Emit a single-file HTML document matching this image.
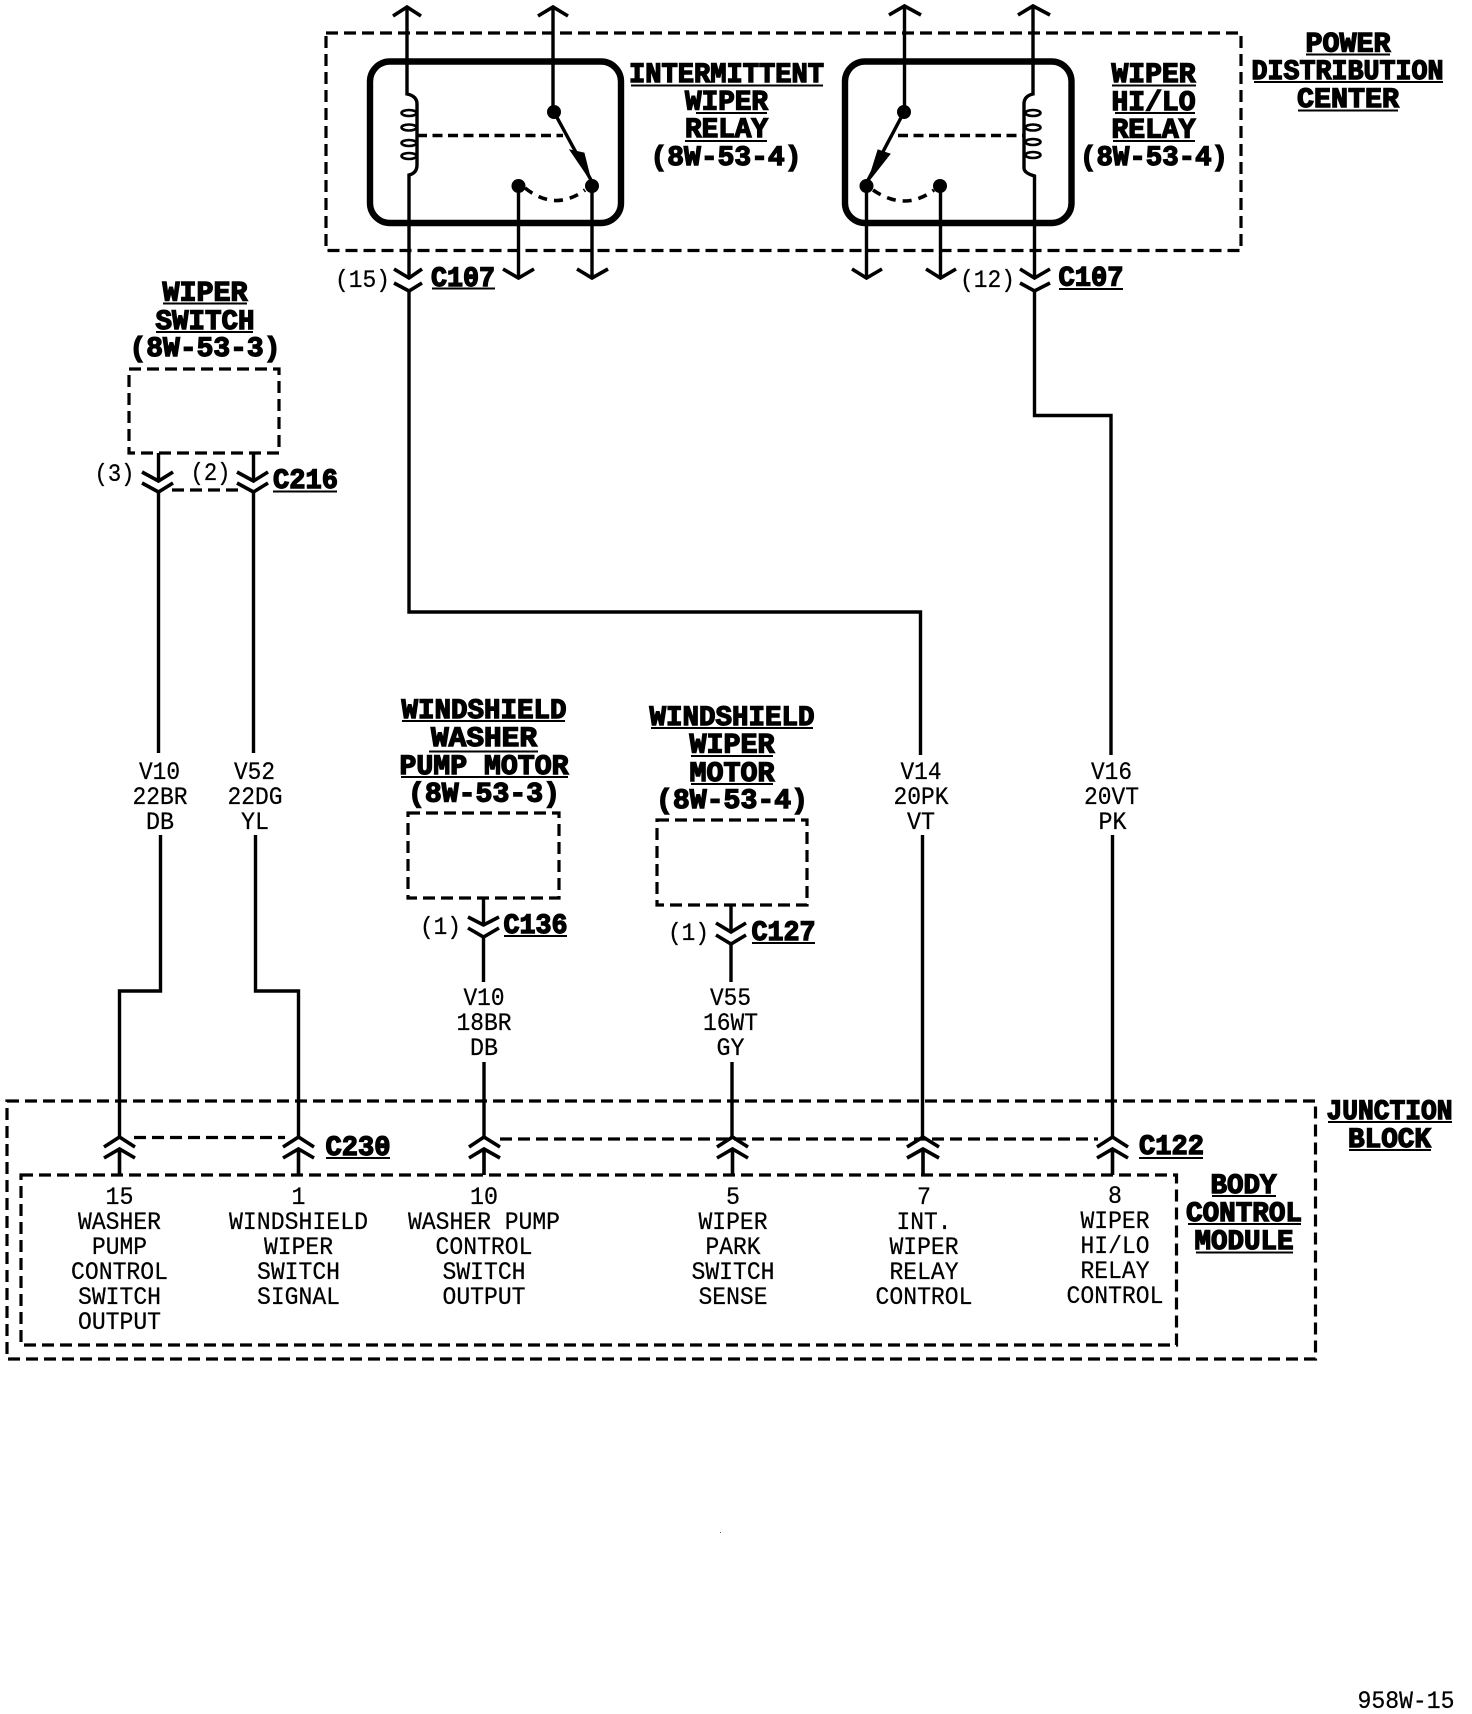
<!DOCTYPE html>
<html>
<head>
<meta charset="utf-8">
<style>
html,body{margin:0;padding:0;background:#fff;width:1472px;height:1714px;overflow:hidden}
svg{display:block}
.t{font-family:"Liberation Mono",monospace;font-size:25px;fill:#000;text-anchor:middle;stroke:#000;stroke-width:.25}
.b{font-family:"Liberation Mono",monospace;font-weight:bold;font-size:28px;fill:#000;text-anchor:middle;stroke:#000;stroke-width:1.4}
.w{fill:none;stroke:#000;stroke-width:3.4}
.a{fill:none;stroke:#000;stroke-width:3.6}
.d{fill:none;stroke:#000;stroke-width:3.2;stroke-dasharray:12 6}
.u{fill:none;stroke:#000;stroke-width:2}
.r{fill:none;stroke:#000;stroke-width:6.400}
</style>
</head>
<body>
<svg width="1472" height="1714" viewBox="0 0 1472 1714" xmlns="http://www.w3.org/2000/svg">
<rect width="1472" height="1714" fill="#fff"/>

<!-- dashed boxes -->
<rect class="d" x="326" y="33" width="915" height="217.500"/>
<rect class="d" x="129" y="369" width="150" height="84"/>
<rect class="d" x="408" y="813" width="151" height="85"/>
<rect class="d" x="657" y="820" width="150" height="85"/>
<rect class="d" x="7" y="1101" width="1308.500" height="258"/>
<rect class="d" x="21" y="1175" width="1155.500" height="170"/>
<path class="d" d="M172 490H238M134 1137.500H285M500 1139H1098"/>

<!-- relays -->
<rect class="r" x="370" y="61.500" width="251" height="161.500" rx="20"/>
<rect class="r" x="845" y="61.500" width="226.500" height="161.500" rx="20"/>

<!-- left relay -->
<path class="w" d="M407 7V94Q417 96 417 104V165Q417 173 409 175V278"/>
<path class="a" d="M393 16L407 7L421 16M538 16L553 7L568 16"/>
<path class="w" d="M553 7V112"/>
<g fill="none" stroke="#000" stroke-width="2.600">
<ellipse cx="409" cy="113" rx="7.500" ry="3"/><ellipse cx="409" cy="127.500" rx="7.500" ry="3"/>
<ellipse cx="409" cy="143" rx="7.500" ry="3"/><ellipse cx="409" cy="156" rx="7.500" ry="3"/>
<ellipse cx="1033" cy="113" rx="7.500" ry="3"/><ellipse cx="1033" cy="127.500" rx="7.500" ry="3"/>
<ellipse cx="1033" cy="142" rx="7.500" ry="3"/><ellipse cx="1033" cy="155" rx="7.500" ry="3"/>
</g>
<path class="a" d="M417 135.500H563" stroke-dasharray="10 5.500"/>
<circle cx="554" cy="112" r="7"/>
<circle cx="592" cy="186" r="7"/>
<circle cx="518.500" cy="186" r="7"/>
<path class="w" d="M554 112L591 180"/>
<path d="M570 150L584 153L591 181Z" fill="#000" stroke="#000"/>
<path class="a" d="M525 188Q555 212 585 190" stroke-dasharray="9 7"/>
<path class="w" d="M518.500 186V278M592 186V278"/>
<path class="a" d="M503 269L518.500 278L534 269M577 269L592 278L608 269"/>
<path class="w" d="M409 290V612H920.500V755"/>
<path class="a" d="M394 269L409 278L422 269M394 283L409 291L422 283"/>

<!-- right relay -->
<path class="w" d="M1033 6V94Q1024 96 1024 104V168Q1024 173 1034.500 176V278"/>
<path class="a" d="M889 15L904.500 6L921 15M1018 15L1033 6L1050 15"/>
<path class="w" d="M904.500 6V112"/>
<path class="a" d="M898 135.500H1024" stroke-dasharray="10 5.500"/>
<circle cx="904" cy="112" r="7"/>
<circle cx="866.500" cy="186" r="7"/>
<circle cx="940" cy="186" r="7"/>
<path class="w" d="M904 112L868 180"/>
<path d="M878 150L890 154L868 182Z" fill="#000" stroke="#000"/>
<path class="a" d="M873 190Q905 212 934 190" stroke-dasharray="9 7"/>
<path class="w" d="M866.500 186V278M940.500 186V278"/>
<path class="a" d="M852 269L866.500 278L882 269M926 269L940.500 278L956 269"/>
<path class="w" d="M1034.500 290V415.500H1111V755"/>
<path class="a" d="M1020 269L1034.500 278L1050 269M1020 283L1034.500 291L1050 283"/>

<!-- wiper switch connector -->
<path class="w" d="M158.500 453V480M253.500 453V480"/>
<path class="a" d="M142 472L158.500 481L173 472M142 483L158.500 492L173 483M237 472L253.500 481L268 472M237 483L253.500 492L268 483"/>
<path class="w" d="M158.500 491V753M253.500 491V753"/>
<path class="w" d="M160.500 835V991H119.500V1137M255.500 835V991H298.500V1137"/>

<!-- washer pump -->
<path class="w" d="M483.500 898V925M483.500 936V982M484 1062V1137"/>
<path class="a" d="M468 917L483.500 925L499 917M468 928L483.500 937L499 928"/>
<!-- wiper motor -->
<path class="w" d="M731 905V932M731 943V982M732 1062V1137"/>
<path class="a" d="M716 923L731 932L746 923M716 935L731 944L746 935"/>
<!-- V14 V16 lower -->
<path class="w" d="M922.500 835V1137M1112.500 835V1137"/>

<!-- bottom connectors -->
<path class="a" d="M104 1147L119.500 1137L135 1147M104 1158L119.500 1149L135 1158M119.500 1149V1175"/>
<path class="a" d="M283 1147L298.500 1137L314 1147M283 1158L298.500 1149L314 1158M298.500 1149V1175"/>
<path class="a" d="M469 1147L484 1137L500 1147M469 1158L484 1149L500 1158M484 1149V1175"/>
<path class="a" d="M717 1147L732.500 1137L748 1147M717 1158L732.500 1149L748 1158M732.500 1149V1175"/>
<path class="a" d="M907 1147L923 1137L939 1147M907 1158L923 1149L939 1158M923 1149V1175"/>
<path class="a" d="M1097 1147L1112.500 1137L1128 1147M1097 1158L1112.500 1149L1128 1158M1112.500 1149V1175"/>

<!-- bold titles -->
<text class="b" x="726.500" y="82" textLength="195" lengthAdjust="spacingAndGlyphs">INTERMITTENT</text>
<text class="b" x="726.500" y="109.500" textLength="83" lengthAdjust="spacingAndGlyphs">WIPER</text>
<text class="b" x="726.500" y="137" textLength="83" lengthAdjust="spacingAndGlyphs">RELAY</text>
<text class="b" x="726" y="165" textLength="151" lengthAdjust="spacingAndGlyphs">(8W-53-4)</text>
<path class="u" d="M631 85.500H823M696 113H767M685 141H767"/>

<text class="b" x="1153.500" y="82" textLength="84" lengthAdjust="spacingAndGlyphs">WIPER</text>
<text class="b" x="1153.500" y="110" textLength="84" lengthAdjust="spacingAndGlyphs">HI/LO</text>
<text class="b" x="1153.500" y="137.500" textLength="84" lengthAdjust="spacingAndGlyphs">RELAY</text>
<text class="b" x="1154" y="165" textLength="148" lengthAdjust="spacingAndGlyphs">(8W-53-4)</text>
<path class="u" d="M1112 85.500H1196M1115 113H1195M1113 141H1195"/>

<text class="b" x="1348" y="51.500" textLength="85" lengthAdjust="spacingAndGlyphs">POWER</text>
<text class="b" x="1347.500" y="79" textLength="192" lengthAdjust="spacingAndGlyphs">DISTRIBUTION</text>
<text class="b" x="1348" y="107" textLength="102" lengthAdjust="spacingAndGlyphs">CENTER</text>
<path class="u" d="M1306 54.500H1390M1254 82H1443M1298 110.500H1398"/>

<text class="b" x="205" y="300.500" textLength="85" lengthAdjust="spacingAndGlyphs">WIPER</text>
<text class="b" x="205" y="329" textLength="99" lengthAdjust="spacingAndGlyphs">SWITCH</text>
<text class="b" x="205" y="356" textLength="151" lengthAdjust="spacingAndGlyphs">(8W-53-3)</text>
<path class="u" d="M163 303.500H247M156 332H253"/>

<text class="b" x="484" y="718" textLength="165" lengthAdjust="spacingAndGlyphs">WINDSHIELD</text>
<text class="b" x="484" y="746" textLength="106" lengthAdjust="spacingAndGlyphs">WASHER</text>
<text class="b" x="484" y="774" textLength="169" lengthAdjust="spacingAndGlyphs">PUMP MOTOR</text>
<text class="b" x="484" y="801.500" textLength="152" lengthAdjust="spacingAndGlyphs">(8W-53-3)</text>
<path class="u" d="M402 721H565M429 751.500H538M401 777H568"/>

<text class="b" x="732" y="725" textLength="165" lengthAdjust="spacingAndGlyphs">WINDSHIELD</text>
<text class="b" x="732" y="752.500" textLength="85" lengthAdjust="spacingAndGlyphs">WIPER</text>
<text class="b" x="732" y="781" textLength="85" lengthAdjust="spacingAndGlyphs">MOTOR</text>
<text class="b" x="732" y="808" textLength="152" lengthAdjust="spacingAndGlyphs">(8W-53-4)</text>
<path class="u" d="M651 728H813M691 756H773M691 784H773"/>

<text class="b" x="1243.500" y="1193" textLength="66" lengthAdjust="spacingAndGlyphs">BODY</text>
<text class="b" x="1244" y="1221" textLength="116" lengthAdjust="spacingAndGlyphs">CONTROL</text>
<text class="b" x="1244" y="1249" textLength="99" lengthAdjust="spacingAndGlyphs">MODULE</text>
<path class="u" d="M1212 1196H1276M1188 1224H1301M1196 1252.500H1293"/>

<text class="b" x="1389.500" y="1119" textLength="126" lengthAdjust="spacingAndGlyphs">JUNCTION</text>
<text class="b" x="1389.500" y="1147" textLength="83" lengthAdjust="spacingAndGlyphs">BLOCK</text>
<path class="u" d="M1328 1122H1452M1349 1150H1431"/>

<!-- connector names -->
<text class="b" x="463" y="286" textLength="64" lengthAdjust="spacingAndGlyphs">C107</text>
<text class="b" x="1091" y="285.500" textLength="65" lengthAdjust="spacingAndGlyphs">C107</text>
<text class="b" x="305.500" y="488" textLength="65" lengthAdjust="spacingAndGlyphs">C216</text>
<text class="b" x="535.500" y="933" textLength="64" lengthAdjust="spacingAndGlyphs">C136</text>
<text class="b" x="783.500" y="940" textLength="64" lengthAdjust="spacingAndGlyphs">C127</text>
<text class="b" x="358" y="1155" textLength="65" lengthAdjust="spacingAndGlyphs">C230</text>
<text class="b" x="1171.500" y="1154" textLength="65" lengthAdjust="spacingAndGlyphs">C122</text>
<path class="u" d="M432 288.500H495M1059 289H1123M273 491.500H337M504 936H567M752 943H815M326 1158H390M1139 1158H1203"/>

<!-- pin numbers -->
<text class="t" x="362.500" y="287" textLength="55" lengthAdjust="spacingAndGlyphs">(15)</text>
<text class="t" x="987.500" y="287" textLength="55" lengthAdjust="spacingAndGlyphs">(12)</text>
<text class="t" x="114.500" y="481" textLength="40" lengthAdjust="spacingAndGlyphs">(3)</text>
<text class="t" x="210.500" y="480" textLength="40" lengthAdjust="spacingAndGlyphs">(2)</text>
<text class="t" x="440.500" y="934" textLength="41" lengthAdjust="spacingAndGlyphs">(1)</text>
<text class="t" x="688.500" y="940" textLength="41" lengthAdjust="spacingAndGlyphs">(1)</text>

<!-- wire labels -->
<text class="t" x="159.500" y="779" textLength="41" lengthAdjust="spacingAndGlyphs">V10</text>
<text class="t" x="160" y="804" textLength="55" lengthAdjust="spacingAndGlyphs">22BR</text>
<text class="t" x="160" y="829" textLength="28" lengthAdjust="spacingAndGlyphs">DB</text>
<text class="t" x="254.500" y="779" textLength="41" lengthAdjust="spacingAndGlyphs">V52</text>
<text class="t" x="255" y="804" textLength="55" lengthAdjust="spacingAndGlyphs">22DG</text>
<text class="t" x="255" y="829" textLength="28" lengthAdjust="spacingAndGlyphs">YL</text>
<text class="t" x="484" y="1005" textLength="41" lengthAdjust="spacingAndGlyphs">V10</text>
<text class="t" x="484" y="1030" textLength="55" lengthAdjust="spacingAndGlyphs">18BR</text>
<text class="t" x="484" y="1055" textLength="28" lengthAdjust="spacingAndGlyphs">DB</text>
<text class="t" x="730.500" y="1005" textLength="41" lengthAdjust="spacingAndGlyphs">V55</text>
<text class="t" x="730.500" y="1030" textLength="55" lengthAdjust="spacingAndGlyphs">16WT</text>
<text class="t" x="730.500" y="1055" textLength="28" lengthAdjust="spacingAndGlyphs">GY</text>
<text class="t" x="921" y="779" textLength="41" lengthAdjust="spacingAndGlyphs">V14</text>
<text class="t" x="921" y="804" textLength="55" lengthAdjust="spacingAndGlyphs">20PK</text>
<text class="t" x="921" y="829" textLength="28" lengthAdjust="spacingAndGlyphs">VT</text>
<text class="t" x="1111.500" y="779" textLength="41" lengthAdjust="spacingAndGlyphs">V16</text>
<text class="t" x="1111.500" y="804" textLength="55" lengthAdjust="spacingAndGlyphs">20VT</text>
<text class="t" x="1112.500" y="829" textLength="28" lengthAdjust="spacingAndGlyphs">PK</text>

<!-- BCM pin labels -->
<text class="t" x="119.500" y="1204" textLength="28" lengthAdjust="spacingAndGlyphs">15</text>
<text class="t" x="119.500" y="1229" textLength="83" lengthAdjust="spacingAndGlyphs">WASHER</text>
<text class="t" x="119.500" y="1254" textLength="55" lengthAdjust="spacingAndGlyphs">PUMP</text>
<text class="t" x="119.500" y="1279" textLength="97" lengthAdjust="spacingAndGlyphs">CONTROL</text>
<text class="t" x="119.500" y="1304" textLength="83" lengthAdjust="spacingAndGlyphs">SWITCH</text>
<text class="t" x="119.500" y="1329" textLength="83" lengthAdjust="spacingAndGlyphs">OUTPUT</text>

<text class="t" x="298.500" y="1204" textLength="14" lengthAdjust="spacingAndGlyphs">1</text>
<text class="t" x="298.500" y="1229" textLength="139" lengthAdjust="spacingAndGlyphs">WINDSHIELD</text>
<text class="t" x="298.500" y="1254" textLength="69" lengthAdjust="spacingAndGlyphs">WIPER</text>
<text class="t" x="298.500" y="1279" textLength="83" lengthAdjust="spacingAndGlyphs">SWITCH</text>
<text class="t" x="298.500" y="1304" textLength="83" lengthAdjust="spacingAndGlyphs">SIGNAL</text>

<text class="t" x="484" y="1204" textLength="28" lengthAdjust="spacingAndGlyphs">10</text>
<text class="t" x="484" y="1229" textLength="152" lengthAdjust="spacingAndGlyphs">WASHER PUMP</text>
<text class="t" x="484" y="1254" textLength="97" lengthAdjust="spacingAndGlyphs">CONTROL</text>
<text class="t" x="484" y="1279" textLength="83" lengthAdjust="spacingAndGlyphs">SWITCH</text>
<text class="t" x="484" y="1304" textLength="83" lengthAdjust="spacingAndGlyphs">OUTPUT</text>

<text class="t" x="733" y="1204" textLength="14" lengthAdjust="spacingAndGlyphs">5</text>
<text class="t" x="733" y="1229" textLength="69" lengthAdjust="spacingAndGlyphs">WIPER</text>
<text class="t" x="733" y="1254" textLength="55" lengthAdjust="spacingAndGlyphs">PARK</text>
<text class="t" x="733" y="1279" textLength="83" lengthAdjust="spacingAndGlyphs">SWITCH</text>
<text class="t" x="733" y="1304" textLength="69" lengthAdjust="spacingAndGlyphs">SENSE</text>

<text class="t" x="924" y="1204" textLength="14" lengthAdjust="spacingAndGlyphs">7</text>
<text class="t" x="924" y="1229" textLength="55" lengthAdjust="spacingAndGlyphs">INT.</text>
<text class="t" x="924" y="1254" textLength="69" lengthAdjust="spacingAndGlyphs">WIPER</text>
<text class="t" x="924" y="1279" textLength="69" lengthAdjust="spacingAndGlyphs">RELAY</text>
<text class="t" x="924" y="1304" textLength="97" lengthAdjust="spacingAndGlyphs">CONTROL</text>

<text class="t" x="1115" y="1203" textLength="14" lengthAdjust="spacingAndGlyphs">8</text>
<text class="t" x="1115" y="1228" textLength="69" lengthAdjust="spacingAndGlyphs">WIPER</text>
<text class="t" x="1115" y="1253" textLength="69" lengthAdjust="spacingAndGlyphs">HI/LO</text>
<text class="t" x="1115" y="1278" textLength="69" lengthAdjust="spacingAndGlyphs">RELAY</text>
<text class="t" x="1115" y="1303" textLength="97" lengthAdjust="spacingAndGlyphs">CONTROL</text>

<!-- speck & figure id -->
<rect x="720" y="1532" width="1" height="1" fill="#555"/>
<text class="t" x="1406" y="1708" textLength="97" lengthAdjust="spacingAndGlyphs">958W-15</text>
</svg>
</body>
</html>
